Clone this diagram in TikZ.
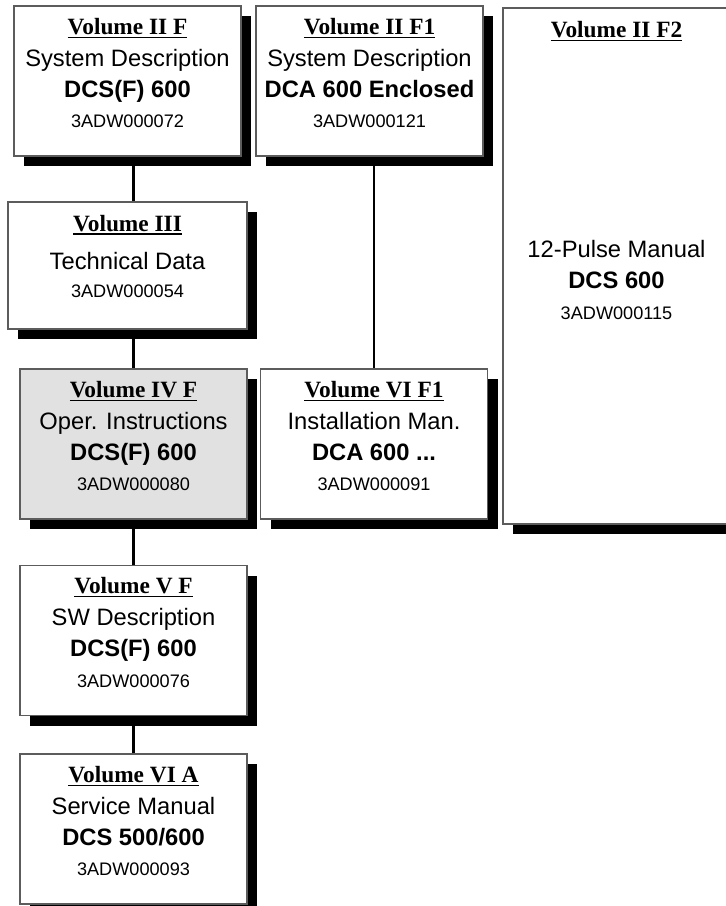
\documentclass[tikz,border=0pt]{standalone}
\usepackage{fontspec}
\setmainfont{Liberation Sans}
\newfontfamily\volserif{Liberation Serif}
\usetikzlibrary{shadows,backgrounds}
\definecolor{VolBorder}{HTML}{5C5C5C}
\definecolor{VolGrey}{HTML}{E1E1E1}
\newcommand{\voltitle}[1]{{\volserif\bfseries\fontsize{17.5}{23}\selectfont\setbox0=\hbox{#1}\rlap{\rule[-2.6pt]{\wd0}{0.95pt}}\box0}}
\newcommand{\volname}[1]{{\bfseries #1}}
\newcommand{\volcode}[1]{{\fontsize{13.6}{23}\selectfont #1}}

\begin{document}
\begin{tikzpicture}[x=0.75pt,y=-0.75pt,
    vol/.style={draw=VolBorder,line width=0.8pt,fill=white,inner sep=0pt,
      minimum width=170.25pt,minimum height=112.5pt,
      drop shadow={shadow xshift=7.5pt,shadow yshift=-7.5pt,fill=black,opacity=1}},
    voltext/.style={align=center,inner sep=0pt,font=\fontsize{17.8}{23}\selectfont},
    link/.style={line width=2pt}]
  \useasboundingbox (0,0) rectangle (725,906);
  % volume boxes
  \node[vol] (v2f) at (127.5,81) {};
  \node[vol] (v2f1) at (369.5,81) {};
  \node[vol,minimum height=387pt] (v2f2) at (616.5,266) {};
  \node[vol,minimum width=179.25pt,minimum height=95.25pt] (v3) at (127.5,265.5) {};
  \node[vol,fill=VolGrey] (v4f) at (133.5,444) {};
  \node[vol] (v6f1) at (374,444) {};
  \node[vol] (v5f) at (133.5,640.5) {};
  \node[vol] (v6a) at (133.5,829) {};
  % texts
  \node[voltext] (v2f-txt) at ([yshift=6pt]v2f.center)
    {\voltitle{Volume II F}\\[1pt] System Description\\ \volname{DCS(F) 600}\\ \volcode{3ADW000072}};
  \node[voltext] (v2f1-txt) at ([yshift=6pt]v2f1.center)
    {\voltitle{Volume II F1}\\[1pt] System Description\\ \volname{DCA 600 Enclosed}\\ \volcode{3ADW000121}};
  \node[inner sep=0pt,anchor=base] (v2f2-title) at (616.5,38) {\voltitle{Volume II F2}};
  \node[voltext] (v2f2-txt) at (616.5,280)
    {12-Pulse Manual\\ \volname{DCS 600}\\ \volcode{3ADW000115}};
  \node[voltext] (v3-txt) at ([yshift=7pt]v3.center)
    {\voltitle{Volume III}\\[5.5pt] Technical Data\\[-2pt] \volcode{3ADW000054}};
  \node[voltext] (v4f-txt) at ([yshift=6pt]v4f.center)
    {\voltitle{Volume IV F}\\[1pt] Oper. Instructions\\ \volname{DCS(F) 600}\\ \volcode{3ADW000080}};
  \node[voltext] (v6f1-txt) at ([yshift=6pt]v6f1.center)
    {\voltitle{Volume VI F1}\\[1pt] Installation Man.\\ \volname{DCA 600 ...}\\ \volcode{3ADW000091}};
  \node[voltext] (v5f-txt) at ([yshift=6pt]v5f.center)
    {\voltitle{Volume V F}\\[1pt] SW Description\\ \volname{DCS(F) 600}\\ \volcode{3ADW000076}};
  \node[voltext] (v6a-txt) at ([yshift=6pt]v6a.center)
    {\voltitle{Volume VI A}\\[1pt] Service Manual\\ \volname{DCS 500/600}\\ \volcode{3ADW000093}};
  % connectors
  \begin{scope}[on background layer]
    \foreach \a/\b in {v2f/v3,v3/v4f,v4f/v5f,v5f/v6a}
      \draw[link] (\a.south -| v4f) -- (\b.north -| v4f);
    \draw[link] (v2f1.south -| v6f1) -- (v6f1.north);
  \end{scope}
\end{tikzpicture}
\end{document}
